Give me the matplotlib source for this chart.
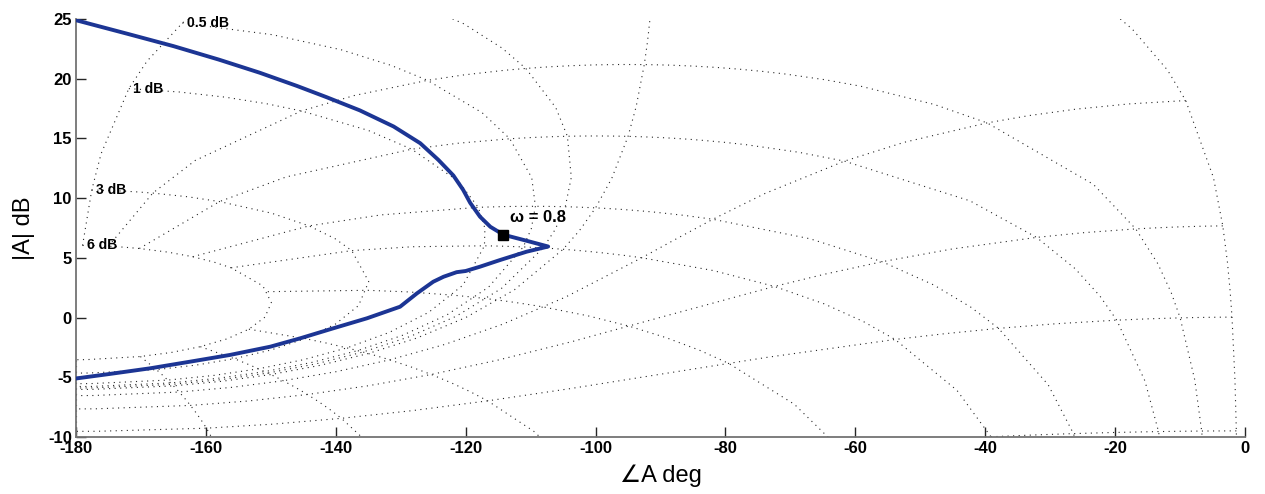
import numpy as np
import matplotlib
matplotlib.use('Agg')
import matplotlib.pyplot as plt

plt.rcParams['font.family'] = ['Liberation Sans', 'DejaVu Sans']
plt.rcParams['axes.unicode_minus'] = False

# open-loop response (phase deg, gain dB)
phase_deg = [-180.0, -172.0, -165.0, -158.0, -151.7, -146.0, -141.4, -136.3, -131.1,
             -127.0, -124.2, -121.9, -120.4, -119.3, -117.8, -116.2, -114.2, -111.1,
             -107.3, -110.6, -114.7, -117.8, -120.0, -121.4, -123.4, -125.0, -127.5,
             -130.1, -135.2, -140.4, -145.5, -150.1, -156.3, -162.4, -168.6, -174.8, -180.0]
mag_db = [24.9, 23.75, 22.73, 21.6, 20.5, 19.4, 18.45, 17.35, 16.0,
          14.6, 13.2, 11.9, 10.7, 9.6, 8.45, 7.6, 6.94, 6.5,
          5.95, 5.52, 4.82, 4.26, 3.9, 3.8, 3.42, 3.0, 2.03,
          0.91, -0.06, -0.9, -1.74, -2.44, -3.13, -3.69, -4.25, -4.72, -5.1]

mark_phase = -114.2
mark_db = 6.94
mark_label = '\u03c9 = 0.8'

# nichols chart: closed loop phase lines, sampled at closed loop gains
cl_phase_lines = [1, 5, 10, 20, 30, 50, 90, 120, 150, 180]
cl_gain_samples = [6, 3, 2, 1, .75, .5, .4, .3, .25, .2, .15, .1, .05, 0, -.05, -.1, -.15,
                   -.2, -.25, -.3, -.4, -.5, -.75, -1, -2, -3, -4, -5, -6, -9, -12, -16,
                   -20, -30, -40]
# closed loop gain lines, sampled at closed loop phases
cl_gain_lines = [6, 3, 1, .5, .25, 0, -1, -3, -6, -12, -20, -40]
cl_phase_samples = [1, 2, 3, 4, 5, 7.5, 10, 15, 20, 25, 30, 45, 60, 75, 90, 105, 120,
                    135, 150, 175, 180]
label_gains = [6, 3, 1, .5, .25]

xticks = [-180, -160, -140, -120, -100, -80, -60, -40, -20, 0]
yticks = [-10, -5, 0, 5, 10, 15, 20, 25]


def open_loop(gains_db, phases):
    # rows: gains, cols: phases
    g = 10 ** (np.array(gains_db, float) / 20)
    p = -np.radians(np.array(phases, float))
    pp, gg = np.meshgrid(p, g)
    z = gg * np.exp(1j * pp)
    with np.errstate(divide='ignore', invalid='ignore'):
        ol = z / (1 - z)
        gain = 20 * np.log10(np.abs(ol))
    ph = np.mod(np.angle(ol, deg=True) + 360, 360) - 360
    return ph, gain


fig = plt.figure(figsize=(12.65, 4.94), dpi=100)
ax = fig.add_axes([0.0601, 0.1154, 0.9241, 0.8461])

dot = dict(color='0.15', linestyle=(0, (1, 4)), linewidth=0.8, zorder=1)

# constant closed loop phase
ph, gn = open_loop(cl_gain_samples, cl_phase_lines)
for j in range(ph.shape[1]):
    ax.plot(ph[:, j], gn[:, j], **dot)

# constant closed loop gain
ph2, gn2 = open_loop(cl_gain_lines, cl_phase_samples)
for i in range(ph2.shape[0]):
    ax.plot(ph2[i], gn2[i], **dot)

for lg in label_gains:
    i = cl_gain_lines.index(lg)
    if -10 <= gn2[i, 0] <= 25:
        ax.annotate(f'{lg:g} dB', (ph2[i, 0], gn2[i, 0]), xytext=(3, 0),
                    textcoords='offset points', ha='left', va='center',
                    fontsize=10, fontweight='bold', zorder=3)

ax.plot(phase_deg, mag_db, color='#1c3594', linewidth=2.8,
        solid_joinstyle='round', solid_capstyle='round', zorder=4)
ax.plot([mark_phase], [mark_db], 's', color='black', markersize=7, zorder=5)
ax.text(-113.2, 8.35, mark_label, fontsize=12, fontweight='bold',
        ha='left', va='center', zorder=5)

ax.set_xlim(-180, 0)
ax.set_ylim(-10, 25)
ax.set_xticks(xticks)
ax.set_yticks(yticks)
ax.tick_params(direction='in', length=7, width=1, color='0.15', labelsize=12, pad=3)
for lab in ax.get_xticklabels() + ax.get_yticklabels():
    lab.set_fontweight('bold')
for s in ['top', 'right']:
    ax.spines[s].set_visible(False)
for s in ['left', 'bottom']:
    ax.spines[s].set_color('0.45')
    ax.spines[s].set_linewidth(1.3)

ax.set_xlabel('\u2220A deg', fontsize=17, labelpad=6)
ax.set_ylabel('|A| dB', fontsize=17, labelpad=9)

fig.savefig('out.png', dpi=100)
